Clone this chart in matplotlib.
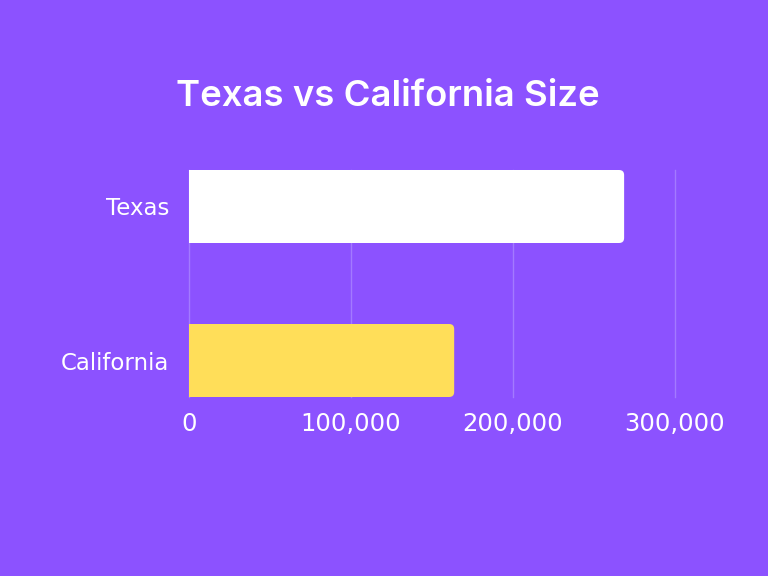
import matplotlib.pyplot as plt
from matplotlib.patches import FancyBboxPatch
from matplotlib.ticker import FuncFormatter

states = ["California", "Texas"]
areas = [163696, 268596]
bar_colors = ["#FFDE59", "#FFFFFF"]
xticks = [0, 100000, 200000, 300000]

BG = "#8C52FF"

fig = plt.figure(figsize=(7.68, 5.76), dpi=100, facecolor=BG)
ax = fig.add_axes([189 / 768, 1 - 397 / 576, 486 / 768, 227 / 576])
ax.set_facecolor(BG)

bar_h = 0.474
ax.set_xlim(0, 300000)
ax.set_ylim(-bar_h / 2, 1 + bar_h / 2)

# data units per pixel, keeps the corner round
x_per_px = 300000 / 486
y_per_px = (1 + bar_h) / 227
radius = 5 * x_per_px

for i, (val, col) in enumerate(zip(areas, bar_colors)):
    box = FancyBboxPatch((0, i - bar_h / 2), val, bar_h,
                         boxstyle=f"round,pad=0,rounding_size={radius}",
                         mutation_aspect=y_per_px / x_per_px,
                         facecolor=col, edgecolor="none", zorder=3)
    ax.add_patch(box)
    # square off the left end
    ax.barh(i, val / 2, height=bar_h, color=col, zorder=3)

ax.set_yticks(range(len(states)))
ax.set_yticklabels(states)
ax.set_xticks(xticks)
ax.xaxis.set_major_formatter(FuncFormatter(lambda v, p: f"{int(v):,}"))

ax.grid(axis="x", color="#A37AFF", linewidth=1, zorder=0)
for gl in ax.xaxis.get_gridlines():
    gl.set_clip_on(False)
for s in ax.spines.values():
    s.set_visible(False)
ax.tick_params(axis="both", length=0, colors="white")
ax.tick_params(axis="x", pad=11, labelsize=17.5)
ax.tick_params(axis="y", pad=14, labelsize=16.5)
for lbl in ax.get_xticklabels() + ax.get_yticklabels():
    lbl.set_fontfamily("DejaVu Sans")

fig.text(388 / 768, 1 - 96 / 576, "Texas vs California Size", ha="center", va="center",
         color="white", fontsize=26.3, fontweight="semibold", family="Inter")

fig.savefig("out.png", dpi=100, facecolor=BG)
